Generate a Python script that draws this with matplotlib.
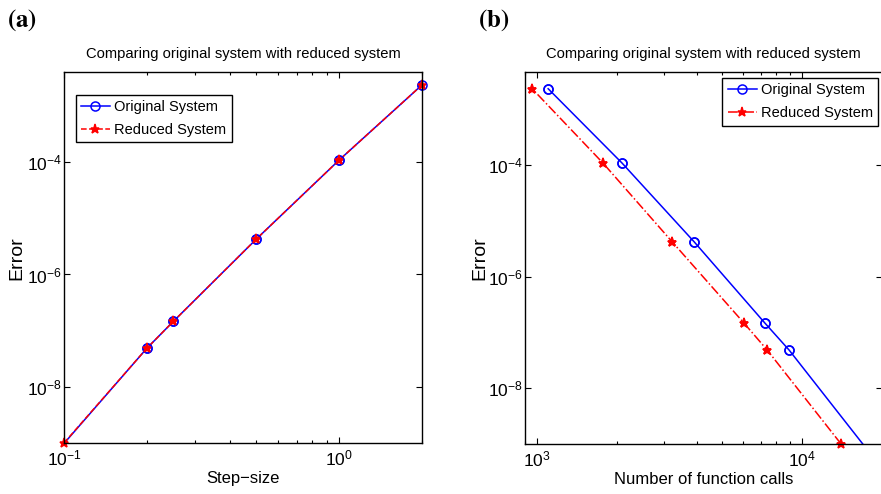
import numpy as np
import matplotlib
matplotlib.use("Agg")
import matplotlib.pyplot as plt
from matplotlib.ticker import LogLocator, NullFormatter, NullLocator

# step sizes and the errors of both systems
step_size = [0.1, 0.2, 0.25, 0.5, 1.0, 2.0]
err_original = [0.98e-9, 4.85e-8, 1.47e-7, 4.27e-6, 1.09e-4, 2.37e-3]
err_reduced = [1.0e-9, 4.85e-8, 1.47e-7, 4.27e-6, 1.09e-4, 2.37e-3]

# cost of each run (function calls), same step order
calls_original = [17000, 8930, 7244, 3908, 2094, 1100]
calls_reduced = [14030, 7382, 6039, 3228, 1774, 957]

title = "Comparing original system with reduced system"

plt.rcParams['font.family'] = ['Liberation Sans', 'DejaVu Sans']
plt.rcParams['mathtext.fontset'] = 'custom'
plt.rcParams['mathtext.rm'] = 'Liberation Sans'
plt.rcParams['mathtext.it'] = 'Liberation Sans'
plt.rcParams['mathtext.bf'] = 'Liberation Sans:bold'
plt.rcParams['axes.linewidth'] = 1.0

fig = plt.figure(figsize=(8.81, 4.94), dpi=100)
ax1 = fig.add_axes([0.0726, 0.1032, 0.4064, 0.7505])
ax2 = fig.add_axes([0.596, 0.1012, 0.405, 0.7525])


def draw(ax, x, y, color, ls, marker, mfc, label, ylim):
    x = np.asarray(x)
    y = np.asarray(y)
    inside = np.where(y >= ylim[0])[0]
    h, = ax.plot(x, y, color=color, ls=ls, lw=1.1, marker=marker, ms=6.5,
                 mfc=mfc, mec=color, mew=1.1, markevery=list(inside), label=label)
    # markers sitting on the frame are drawn whole
    ax.plot(x[inside], y[inside], ls='none', marker=marker, ms=6.5, mfc=mfc,
            mec=color, mew=1.1, clip_on=False, zorder=h.get_zorder() + 0.1)
    return h


def style(ax, xlim, ylim, xlabel, ylabel_x):
    ax.set_xscale('log')
    ax.set_yscale('log')
    ax.set_xlim(*xlim)
    ax.set_ylim(*ylim)
    ax.set_yticks([1e-8, 1e-6, 1e-4])
    ax.yaxis.set_minor_locator(NullLocator())
    ax.xaxis.set_minor_locator(LogLocator(base=10, subs=np.arange(2, 10)))
    ax.xaxis.set_minor_formatter(NullFormatter())
    ax.tick_params(which='both', direction='in', top=True, right=True,
                   labelsize=12.5, width=0.8)
    ax.tick_params(axis='x', pad=4)
    ax.tick_params(axis='y', pad=1.5)
    ax.tick_params(which='major', length=4)
    ax.tick_params(which='minor', length=2.5)
    ax.set_title(title, fontsize=10.6, pad=10)
    ax.set_xlabel(xlabel, fontsize=12, labelpad=2)
    ax.set_ylabel("Error", fontsize=14)
    ax.yaxis.set_label_coords(ylabel_x, 0.5)


def legend(ax, loc, anchor):
    leg = ax.legend(loc=loc, bbox_to_anchor=anchor, fontsize=10.5,
                    fancybox=False, edgecolor='black', framealpha=1,
                    handlelength=2.0, handletextpad=0.3, borderpad=0.35,
                    labelspacing=0.65, borderaxespad=0)
    leg.get_frame().set_linewidth(1.0)
    return leg


ylim1 = (1e-9, 10 ** -2.4)
draw(ax1, step_size, err_original, 'blue', '-', 'o', 'none', 'Original System', ylim1)
draw(ax1, step_size, err_reduced, 'red', '--', '*', 'red', 'Reduced System', ylim1)
style(ax1, (0.1, 2.0), ylim1, "Step\u2212size", -0.109)
legend(ax1, 'upper left', (0.033, 0.94))

ylim2 = (1e-9, 10 ** -2.33)
draw(ax2, calls_original, err_original, 'blue', '-', 'o', 'none', 'Original System', ylim2)
draw(ax2, calls_reduced, err_reduced, 'red', '-.', '*', 'red', 'Reduced System', ylim2)
style(ax2, (900, 20000), ylim2, "Number of function calls", -0.104)
legend(ax2, 'upper right', (0.99, 0.985))

fig.text(0.008, 0.985, r"$\mathbf{(a)}$", fontsize=18, va='top', math_fontfamily='stix')
fig.text(0.542, 0.985, r"$\mathbf{(b)}$", fontsize=18, va='top', math_fontfamily='stix')

fig.savefig("out.png", dpi=100)
